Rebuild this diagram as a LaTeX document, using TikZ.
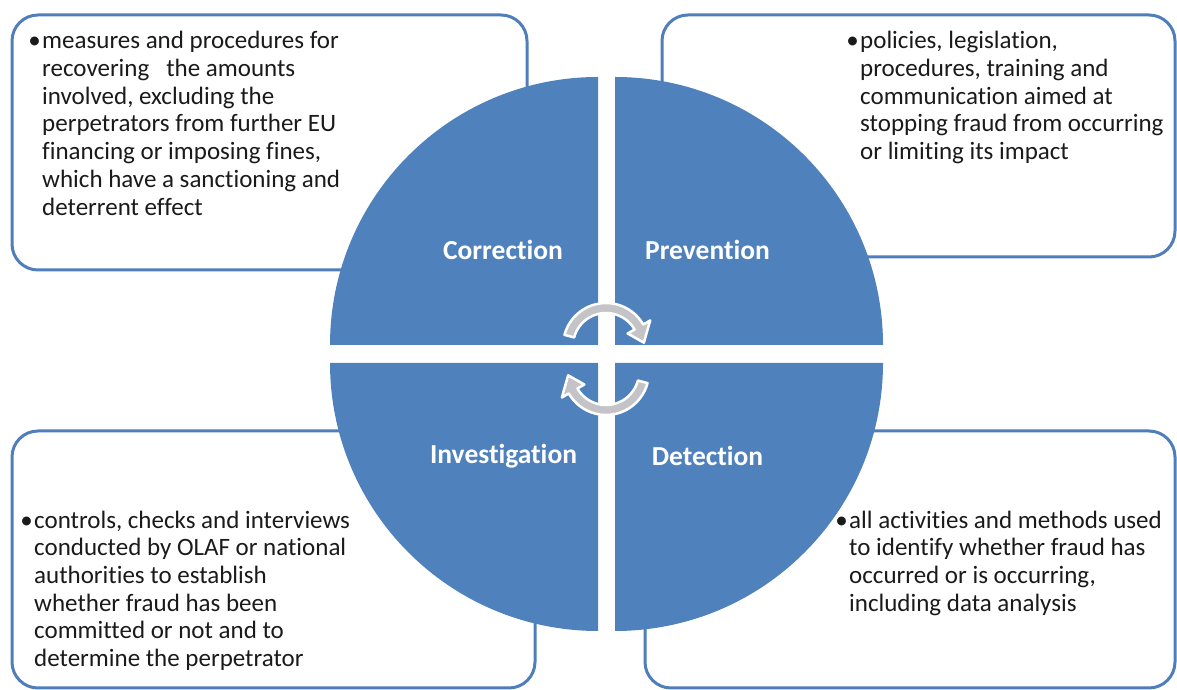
\documentclass[tikz,border=0pt]{standalone}
\usepackage{fontspec}
\setmainfont[Ligatures=NoCommon]{Carlito}
\usepackage{tikz}
\usetikzlibrary{positioning}

\definecolor{pieblue}{RGB}{79,129,189}
\definecolor{boxblue}{RGB}{79,126,186}
\definecolor{arrowgray}{RGB}{196,196,200}
\definecolor{txtcol}{RGB}{26,26,26}

\tikzset{
        infobox/.style={line width=3pt, draw=boxblue, rounded corners=26pt},
        quadrant/.style={fill=pieblue},
        phase/.style={text=white, font=\fontsize{27.5}{30}\selectfont\bfseries, inner sep=0pt},
        desc/.style={text=txtcol, font=\fontsize{25}{27.7}\selectfont, align=left, inner sep=0pt, anchor=north west},
        bul/.style={text=txtcol, font=\fontsize{25}{27.7}\selectfont, inner sep=0pt, anchor=north east},
        cyclearrow/.style={fill=arrowgray, draw=white, line width=2.5pt, line join=round}
}

\begin{document}
\begin{tikzpicture}[x=1pt, y=1pt]
        \useasboundingbox (0,0) rectangle (1177,690);
        \coordinate (O) at (606.5,336);

        % boxes behind the circle
        \draw[infobox] (12,420) rectangle (527,675);
        \draw[infobox] (662,433) rectangle (1175,675);
        \draw[infobox] (12,2) rectangle (535,259);
        \draw[infobox] (645,2) rectangle (1175,259);

        % four quarters, pulled apart
        \foreach \dx/\dy/\a in {1/1/0, -1/1/90, -1/-1/180, 1/-1/270}
          \fill[quadrant] ([shift={(\dx*8.5,\dy*9)}]O) -- ++(\a:268pt) arc[start angle=\a, delta angle=90, radius=268pt] -- cycle;

        \node[phase] (corrlabel) at (503,440) {Correction};
        \node[phase] (prevlabel) at (707.5,440) {Prevention};
        \node[phase] (invlabel) at (503.5,234) {Investigation};
        \node[phase] (detlabel) at (707.5,234) {Detection};

        % cycle arrows in the middle
        \foreach \a in {0,180}
          \draw[cyclearrow, shift={(606,331)}, rotate=\a] ([shift={(0,13)}]165:43pt) arc[start angle=165, end angle=30, radius=43pt] -- ([shift={(0,13)}]30:51pt) -- ([shift={(0,13)}]5:38pt) -- ([shift={(0,13)}]30:25pt) -- ([shift={(0,13)}]30:33pt) arc[start angle=30, end angle=165, radius=33pt] -- cycle;

        \node[desc] (corrtext) at (42,660.7) {\strut measures and procedures for\\recovering\ \ \ the amounts\\involved, excluding the\\perpetrators from further EU\\financing or imposing fines,\\which have a sanctioning and\\deterrent effect};
        \node[bul] (corrbul) at ([xshift=-1pt]corrtext.north west) {\strut•};

        \node[desc] (prevtext) at (860,660.7) {\strut policies, legislation,\\procedures, training and\\communication aimed at\\stopping fraud from occurring\\or limiting its impact};
        \node[bul] (prevbul) at ([xshift=-1pt]prevtext.north west) {\strut•};

        \node[desc] (invtext) at (34,181.4) {\strut controls, checks and interviews\\conducted by OLAF or national\\authorities to establish\\whether fraud has been\\committed or not and to\\determine the perpetrator};
        \node[bul] (invbul) at ([xshift=-1pt]invtext.north west) {\strut•};

        \node[desc] (dettext) at (849,181.4) {\strut all activities and methods used\\to identify whether fraud has\\occurred or is occurring,\\including data analysis};
        \node[bul] (detbul) at ([xshift=-1pt]dettext.north west) {\strut•};
\end{tikzpicture}
\end{document}
